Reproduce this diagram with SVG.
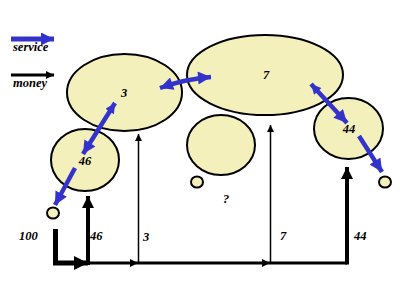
<svg xmlns="http://www.w3.org/2000/svg" width="400" height="300" viewBox="0 0 400 300">
<style>
.node{fill:#f3f0bb;stroke:#000;stroke-width:2}
.lbl{font-family:"Liberation Serif",serif;font-style:italic;font-weight:bold;font-size:12.5px;fill:#000}
.svc{stroke:#3333cc;stroke-width:4.5;fill:none}
.money{stroke:#000;fill:none}
</style>
<defs>
<marker id="bh" viewBox="0 0 10 10" refX="10" refY="5" markerWidth="15" markerHeight="13" markerUnits="userSpaceOnUse" orient="auto-start-reverse">
<path d="M0,0 L10,5 L0,10 z" fill="#3333cc"/>
</marker>
<marker id="bhs" viewBox="0 0 10 10" refX="10" refY="5" markerWidth="12" markerHeight="10" markerUnits="userSpaceOnUse" orient="auto-start-reverse">
<path d="M0,0 L10,5 L0,10 z" fill="#3333cc"/>
</marker>
<marker id="kh" viewBox="0 0 10 10" refX="10" refY="5" markerWidth="10" markerHeight="8" markerUnits="userSpaceOnUse" orient="auto">
<path d="M0,0 L10,5 L0,10 z" fill="#000"/>
</marker>
<marker id="khs" viewBox="0 0 10 10" refX="10" refY="5" markerWidth="9" markerHeight="7" markerUnits="userSpaceOnUse" orient="auto">
<path d="M0,0 L10,5 L0,10 z" fill="#000"/>
</marker>
<marker id="khb" viewBox="0 0 10 10" refX="10" refY="5" markerWidth="12" markerHeight="12" markerUnits="userSpaceOnUse" orient="auto">
<path d="M0,0 L10,5 L0,10 z" fill="#000"/>
</marker>
<marker id="khx" viewBox="0 0 10 10" refX="10" refY="5" markerWidth="14" markerHeight="15" markerUnits="userSpaceOnUse" orient="auto">
<path d="M0,0 L10,5 L0,10 z" fill="#000"/>
</marker>
</defs>
<rect width="400" height="300" fill="#fff"/>
<g id="legend">
<line x1="11" y1="39" x2="54" y2="39" stroke="#3333cc" stroke-width="5" marker-end="url(#bh)"/>
<text x="13" y="51" class="lbl" font-size="11.5">service</text>
<line x1="11" y1="75" x2="54" y2="75" stroke="#000" stroke-width="3" marker-end="url(#kh)"/>
<text x="13" y="87" class="lbl" font-size="11.5">money</text>
</g>
<g id="node-3"><ellipse class="node" cx="124.5" cy="92.5" rx="57.5" ry="38.5"/><text x="124" y="97" class="lbl" text-anchor="middle">3</text></g>
<g id="node-7"><ellipse class="node" cx="265" cy="75" rx="78" ry="40"/><text x="266" y="79" class="lbl" text-anchor="middle" font-weight="normal">7</text></g>
<g id="node-46"><ellipse class="node" cx="85" cy="160" rx="34" ry="31"/><text x="85" y="165" class="lbl" text-anchor="middle">46</text></g>
<g id="node-unknown"><ellipse class="node" cx="221" cy="145" rx="34" ry="30"/></g>
<g id="node-44"><ellipse class="node" cx="348.5" cy="128.5" rx="34.5" ry="30.5"/><text x="349" y="133" class="lbl" text-anchor="middle">44</text></g>
<g id="sink-46"><ellipse class="node" cx="53" cy="213" rx="6" ry="5.5" stroke-width="1.5"/></g>
<g id="sink-unknown"><ellipse class="node" cx="197" cy="182" rx="6" ry="5.5" stroke-width="1.5"/></g>
<g id="sink-44"><ellipse class="node" cx="385" cy="182" rx="6" ry="5.5" stroke-width="1.5"/></g>
<text x="226" y="203" class="lbl" font-size="16" text-anchor="middle" fill="#000">?</text>
<g id="connectors">
<path class="svc" d="M160,88 Q185,79 211,77" marker-start="url(#bh)" marker-end="url(#bh)"/>
<line class="svc" x1="115" y1="103" x2="83" y2="154" marker-start="url(#bhs)" marker-end="url(#bh)"/>
<line class="svc" x1="311" y1="84" x2="347" y2="123" marker-start="url(#bhs)" marker-end="url(#bh)"/>
<line class="svc" x1="359" y1="136" x2="382" y2="172" marker-end="url(#bh)"/>
<line class="svc" x1="75" y1="168" x2="55" y2="205" marker-end="url(#bh)"/>
<path class="money" stroke-width="5" d="M55.5,229 V263 H88" marker-end="url(#khx)"/>
<line class="money" stroke-width="4" x1="88" y1="265" x2="88" y2="196" marker-end="url(#khb)"/>
<line class="money" stroke-width="3" x1="88" y1="263" x2="138" y2="263" marker-end="url(#kh)"/>
<line class="money" stroke-width="1.5" x1="138.5" y1="263" x2="138.5" y2="134" marker-end="url(#khs)"/>
<line class="money" stroke-width="3" x1="138" y1="263" x2="270" y2="263" marker-end="url(#kh)"/>
<line class="money" stroke-width="1.5" x1="270.5" y1="263" x2="270.5" y2="125" marker-end="url(#khs)"/>
<path class="money" stroke-width="3" d="M270,263 H347"/>
<line class="money" stroke-width="4" x1="347" y1="264.5" x2="347" y2="167" marker-end="url(#khb)"/>
</g>
<g id="money-labels">
<text x="19" y="240" class="lbl">100</text>
<text x="90" y="240" class="lbl">46</text>
<text x="143" y="241" class="lbl">3</text>
<text x="280" y="240" class="lbl" font-weight="normal">7</text>
<text x="354" y="240" class="lbl">44</text>
</g>
</svg>
